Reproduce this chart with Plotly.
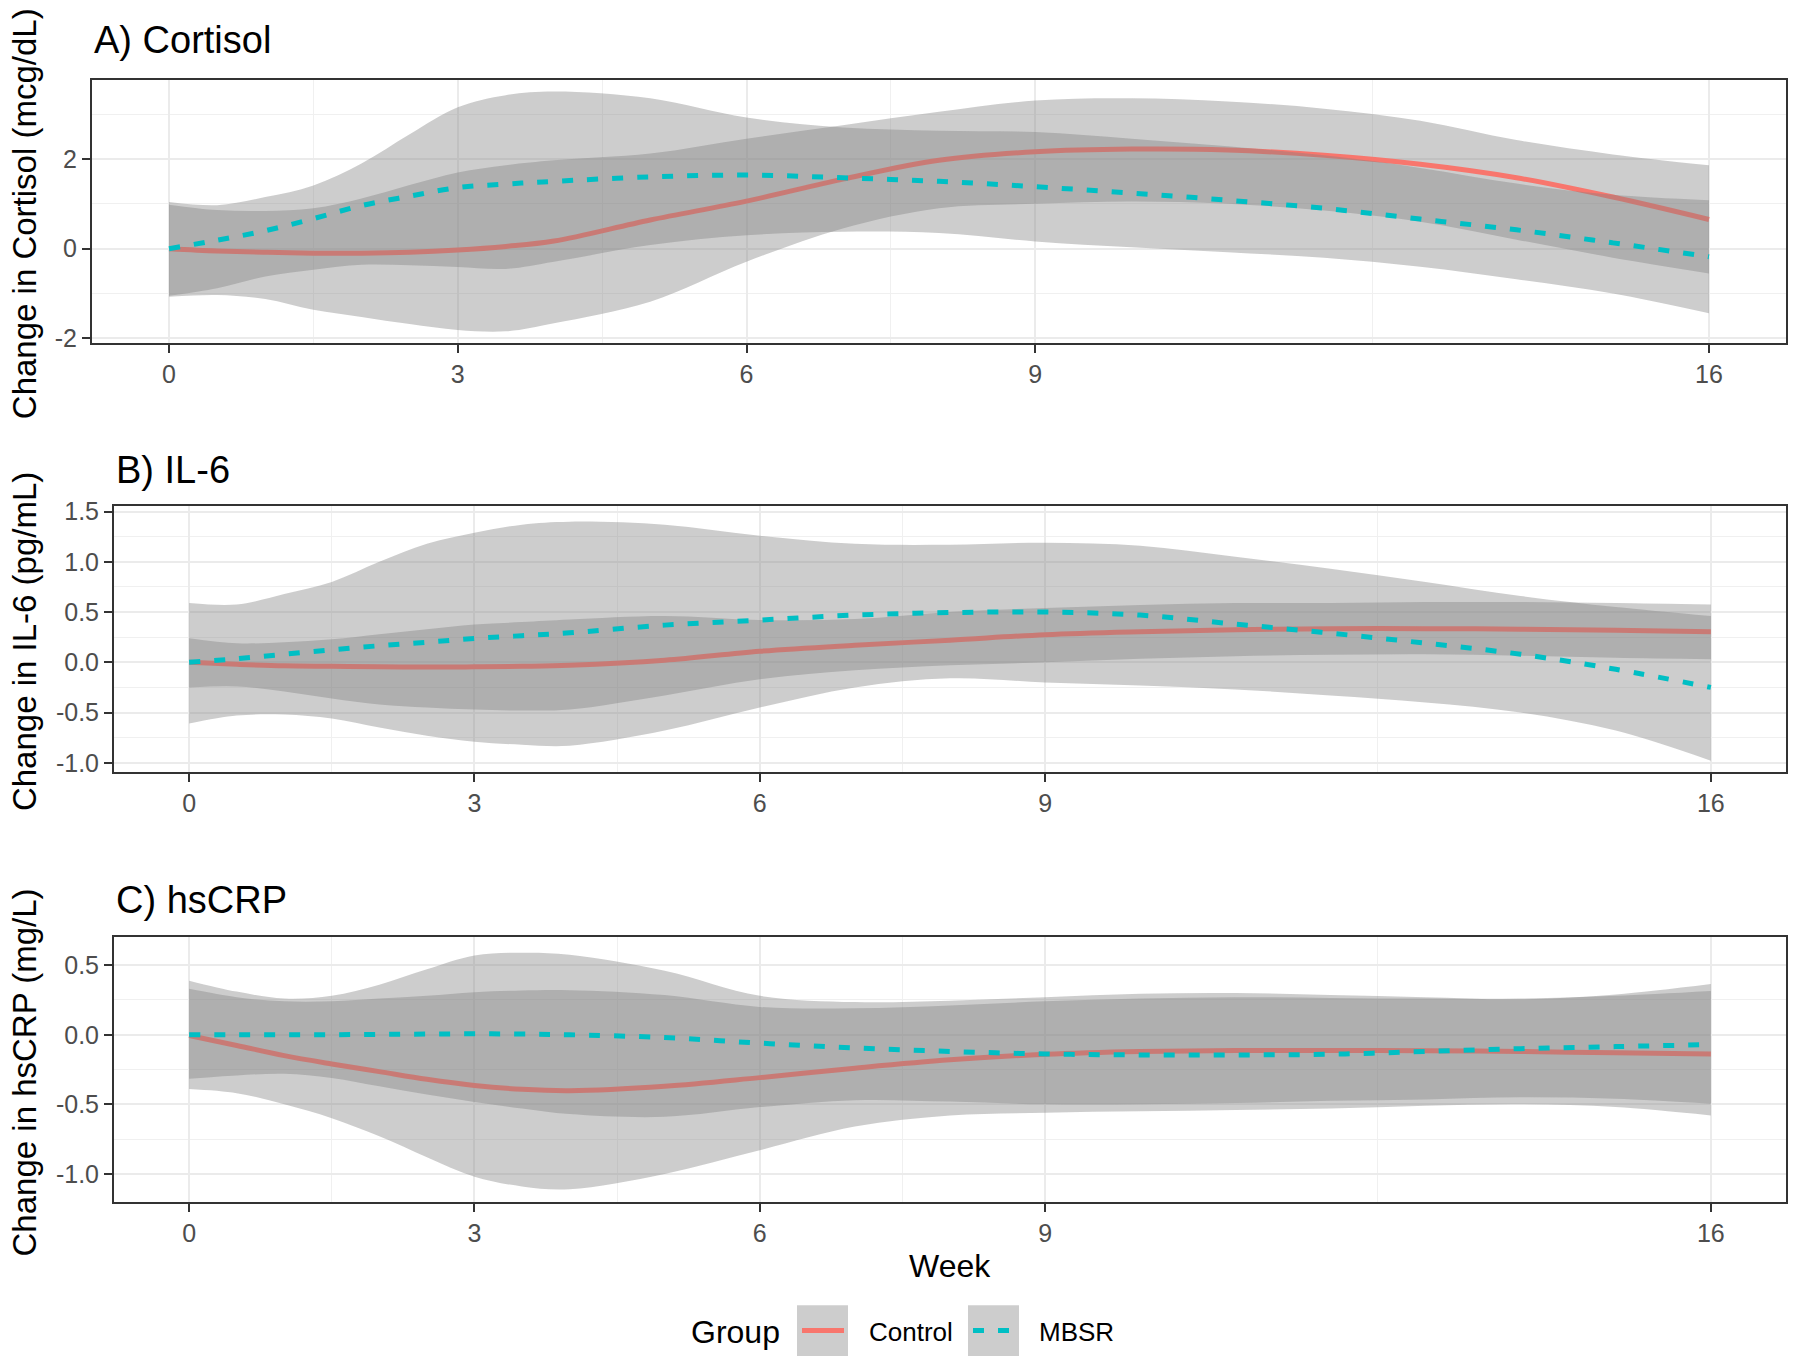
import plotly.graph_objects as go

W, H = 1800, 1365

weeks = [0, 0.5, 1, 1.5, 2, 2.5, 3, 3.5, 4, 5, 6, 7, 8, 9, 10, 11, 12, 13, 14, 15, 16]
x_breaks = [0, 3, 6, 9, 16]
x_minor = [1.5, 4.5, 7.5, 12.5]

# A) Cortisol
cort_ctrl = [0.0, -0.05, -0.08, -0.1, -0.1, -0.08, -0.03, 0.05, 0.17, 0.64, 1.06, 1.55, 1.97, 2.16, 2.22, 2.2, 2.08, 1.88, 1.58, 1.15, 0.65]
cort_ctrl_lo = [-1.07, -1.03, -1.12, -1.36, -1.52, -1.68, -1.81, -1.84, -1.66, -1.18, -0.29, 0.45, 0.9, 1.0, 1.05, 1.0, 0.85, 0.6, 0.2, -0.2, -0.55]
cort_ctrl_hi = [0.98, 0.86, 0.84, 0.9, 1.12, 1.42, 1.7, 1.86, 1.97, 2.12, 2.45, 2.75, 3.05, 3.3, 3.35, 3.28, 3.12, 2.85, 2.42, 2.1, 1.86]
cort_mbsr = [0.0, 0.19, 0.4, 0.67, 0.96, 1.17, 1.36, 1.44, 1.5, 1.6, 1.64, 1.58, 1.5, 1.38, 1.24, 1.08, 0.9, 0.66, 0.42, 0.13, -0.18]
cort_mbsr_lo = [-1.05, -0.88, -0.62, -0.47, -0.36, -0.37, -0.41, -0.45, -0.29, 0.08, 0.3, 0.38, 0.35, 0.16, 0.03, -0.08, -0.2, -0.4, -0.68, -1.0, -1.44]
cort_mbsr_hi = [1.04, 0.97, 1.15, 1.41, 1.9, 2.55, 3.15, 3.42, 3.5, 3.35, 2.92, 2.7, 2.63, 2.6, 2.45, 2.28, 2.08, 1.8, 1.45, 1.2, 1.08]

# B) IL-6
il6_ctrl = [0.0, -0.02, -0.035, -0.04, -0.045, -0.048, -0.045, -0.04, -0.03, 0.02, 0.11, 0.17, 0.22, 0.275, 0.305, 0.325, 0.335, 0.335, 0.33, 0.32, 0.305]
il6_ctrl_lo = [-0.25, -0.24, -0.29, -0.36, -0.42, -0.45, -0.47, -0.48, -0.47, -0.33, -0.17, -0.08, -0.03, 0.0, 0.035, 0.06, 0.075, 0.08, 0.065, 0.045, 0.03]
il6_ctrl_hi = [0.24, 0.19, 0.2, 0.23, 0.28, 0.33, 0.376, 0.4, 0.425, 0.46, 0.42, 0.43, 0.5, 0.54, 0.57, 0.59, 0.59, 0.6, 0.6, 0.59, 0.575]
il6_mbsr = [0.0, 0.035, 0.08, 0.125, 0.165, 0.2, 0.237, 0.265, 0.293, 0.37, 0.42, 0.47, 0.495, 0.5, 0.47, 0.38, 0.29, 0.19, 0.08, -0.07, -0.25]
il6_mbsr_lo = [-0.61, -0.53, -0.52, -0.56, -0.65, -0.73, -0.79, -0.82, -0.83, -0.68, -0.45, -0.25, -0.16, -0.2, -0.23, -0.27, -0.33, -0.4, -0.5, -0.68, -0.98]
il6_mbsr_hi = [0.59, 0.575, 0.68, 0.8, 1.0, 1.18, 1.29, 1.37, 1.4, 1.37, 1.26, 1.18, 1.17, 1.19, 1.16, 1.05, 0.93, 0.8, 0.66, 0.55, 0.46]

# C) hsCRP
crp_ctrl = [-0.005, -0.077, -0.15, -0.21, -0.265, -0.32, -0.364, -0.392, -0.402, -0.37, -0.308, -0.24, -0.18, -0.14, -0.12, -0.113, -0.113, -0.115, -0.12, -0.13, -0.138]
crp_ctrl_lo = [-0.39, -0.42, -0.5, -0.6, -0.73, -0.88, -1.02, -1.09, -1.11, -1.0, -0.83, -0.66, -0.58, -0.56, -0.55, -0.54, -0.53, -0.51, -0.5, -0.52, -0.58]
crp_ctrl_hi = [0.33, 0.27, 0.24, 0.24, 0.26, 0.28, 0.306, 0.318, 0.32, 0.285, 0.2, 0.19, 0.21, 0.24, 0.26, 0.27, 0.265, 0.26, 0.26, 0.28, 0.315]
crp_mbsr = [0.0, 0.0, 0.0, 0.0, 0.003, 0.005, 0.007, 0.005, 0.0, -0.02, -0.06, -0.095, -0.12, -0.138, -0.145, -0.145, -0.14, -0.12, -0.1, -0.085, -0.071]
crp_mbsr_lo = [-0.316, -0.292, -0.28, -0.31, -0.37, -0.43, -0.483, -0.53, -0.57, -0.59, -0.52, -0.47, -0.48, -0.5, -0.5, -0.49, -0.475, -0.465, -0.45, -0.46, -0.495]
crp_mbsr_hi = [0.389, 0.31, 0.26, 0.28, 0.36, 0.47, 0.569, 0.59, 0.575, 0.46, 0.28, 0.235, 0.245, 0.27, 0.295, 0.3, 0.285, 0.27, 0.255, 0.29, 0.365]

RED = "#F8766D"
TEAL = "#00BFC4"
BAND = "rgba(130,130,130,0.4)"
FONT = "Liberation Sans, Arial, sans-serif"

panels = [
    dict(title="A) Cortisol", ytitle="Change in Cortisol (mcg/dL)",
         ctrl=(cort_ctrl, cort_ctrl_lo, cort_ctrl_hi), mbsr=(cort_mbsr, cort_mbsr_lo, cort_mbsr_hi),
         box=(92, 1786, 78, 341), xr=[-0.8, 16.8], yr=[-2.09, 3.76],
         yticks=[-2, 0, 2], yticktext=["-2", "0", "2"], yminor=[-1, 1, 3], title_y=38),
    dict(title="B) IL-6", ytitle="Change in IL-6 (pg/mL)",
         ctrl=(il6_ctrl, il6_ctrl_lo, il6_ctrl_hi), mbsr=(il6_mbsr, il6_mbsr_lo, il6_mbsr_hi),
         box=(114, 1786, 505, 771), xr=[-0.79, 16.79], yr=[-1.091, 1.553],
         yticks=[-1.0, -0.5, 0.0, 0.5, 1.0, 1.5], yticktext=["-1.0", "-0.5", "0.0", "0.5", "1.0", "1.5"],
         yminor=[-0.75, -0.25, 0.25, 0.75, 1.25], title_y=469),
    dict(title="C) hsCRP", ytitle="Change in hsCRP (mg/L)",
         ctrl=(crp_ctrl, crp_ctrl_lo, crp_ctrl_hi), mbsr=(crp_mbsr, crp_mbsr_lo, crp_mbsr_hi),
         box=(114, 1786, 936, 1202), xr=[-0.79, 16.79], yr=[-1.204, 0.705],
         yticks=[-1.0, -0.5, 0.0, 0.5], yticktext=["-1.0", "-0.5", "0.0", "0.5"],
         yminor=[-0.75, -0.25, 0.25], title_y=899),
]


def px(x):
    return x / W


def py(y):
    # target pixel row -> paper fraction; small correction for how the page gets photographed
    return 1 - ((y - 7) / 0.9875) / H


fig = go.Figure()
annotations = []
shapes = []
layout_axes = {}

for i, p in enumerate(panels):
    n = "" if i == 0 else str(i + 1)
    xa, ya = "x" + n, "y" + n
    # ribbon then line per group, like geom_smooth draws them
    for (mean, lo, hi), color, dash in [(p["ctrl"], RED, "solid"), (p["mbsr"], TEAL, "11px,14px")]:
        fig.add_trace(go.Scatter(x=weeks, y=lo, mode="lines", line=dict(width=0, shape="spline"),
                                 xaxis=xa, yaxis=ya, hoverinfo="skip"))
        fig.add_trace(go.Scatter(x=weeks, y=hi, mode="lines", line=dict(width=0, shape="spline"),
                                 fill="tonexty", fillcolor=BAND, xaxis=xa, yaxis=ya, hoverinfo="skip"))
        fig.add_trace(go.Scatter(x=weeks, y=mean, mode="lines",
                                 line=dict(color=color, width=5, dash=dash, shape="spline"),
                                 xaxis=xa, yaxis=ya))

    l, r, t, b = p["box"]
    common = dict(showline=True, mirror=True, linecolor="#333333", linewidth=2,
                  ticks="outside", ticklen=8, tickwidth=2, tickcolor="#333333",
                  tickfont=dict(family=FONT, size=25, color="#4D4D4D"),
                  showgrid=True, gridcolor="#EBEBEB", gridwidth=2, zeroline=False)
    layout_axes["xaxis" + n] = dict(common, domain=[px(l), px(r)], anchor=ya, range=p["xr"],
                                    tickmode="array", tickvals=x_breaks, ticktext=[str(v) for v in x_breaks],
                                    minor=dict(tickmode="array", tickvals=x_minor, showgrid=True,
                                               gridcolor="#F0F0F0", gridwidth=1, ticks=""))
    layout_axes["yaxis" + n] = dict(common, domain=[py(b), py(t)], anchor=xa, range=p["yr"],
                                    tickmode="array", tickvals=p["yticks"], ticktext=p["yticktext"],
                                    minor=dict(tickmode="array", tickvals=p["yminor"], showgrid=True,
                                               gridcolor="#F0F0F0", gridwidth=1, ticks=""))
    annotations.append(dict(text=p["title"], x=px(l), y=py(p["title_y"]), xref="paper", yref="paper",
                            xanchor="left", yanchor="middle", showarrow=False,
                            font=dict(family=FONT, size=38, color="black")))
    annotations.append(dict(text=p["ytitle"], x=px(24), y=py((t + b) / 2 + 3), xref="paper", yref="paper",
                            xanchor="center", yanchor="middle", textangle=-90, showarrow=False,
                            font=dict(family=FONT, size=33, color="black")))

annotations.append(dict(text="Week", x=px(950), y=py(1266), xref="paper", yref="paper",
                        xanchor="center", yanchor="middle", showarrow=False,
                        font=dict(family=FONT, size=32, color="black")))

# legend drawn by hand: grey key boxes with line samples
annotations.append(dict(text="Group", x=px(689), y=py(1332), xref="paper", yref="paper",
                        xanchor="left", yanchor="middle", showarrow=False,
                        font=dict(family=FONT, size=32, color="black")))
legend_items = [("Control", RED, "solid", 797, 867), ("MBSR", TEAL, "11px,14px", 968, 1037)]
for name, color, dash, kx, tx in legend_items:
    shapes.append(dict(type="rect", xref="paper", yref="paper", x0=px(kx), x1=px(kx + 51),
                       y0=py(1356), y1=py(1305), fillcolor=BAND, line=dict(width=0)))
    shapes.append(dict(type="line", xref="paper", yref="paper", x0=px(kx + 5), x1=px(kx + 47),
                       y0=py(1330.5), y1=py(1330.5), line=dict(color=color, width=5, dash=dash)))
    annotations.append(dict(text=name, x=px(tx), y=py(1332), xref="paper", yref="paper",
                            xanchor="left", yanchor="middle", showarrow=False,
                            font=dict(family=FONT, size=26, color="black")))

fig.update_layout(
    width=W, height=H,
    margin=dict(l=0, r=0, t=0, b=0),
    plot_bgcolor="white", paper_bgcolor="white",
    showlegend=False,
    annotations=annotations,
    shapes=shapes,
    **layout_axes,
)

# drop the default page margin so the figure sits at the window's corner
fig.write_html("out.html", config={"displayModeBar": False},
               post_script="document.body.style.margin='0px';")
